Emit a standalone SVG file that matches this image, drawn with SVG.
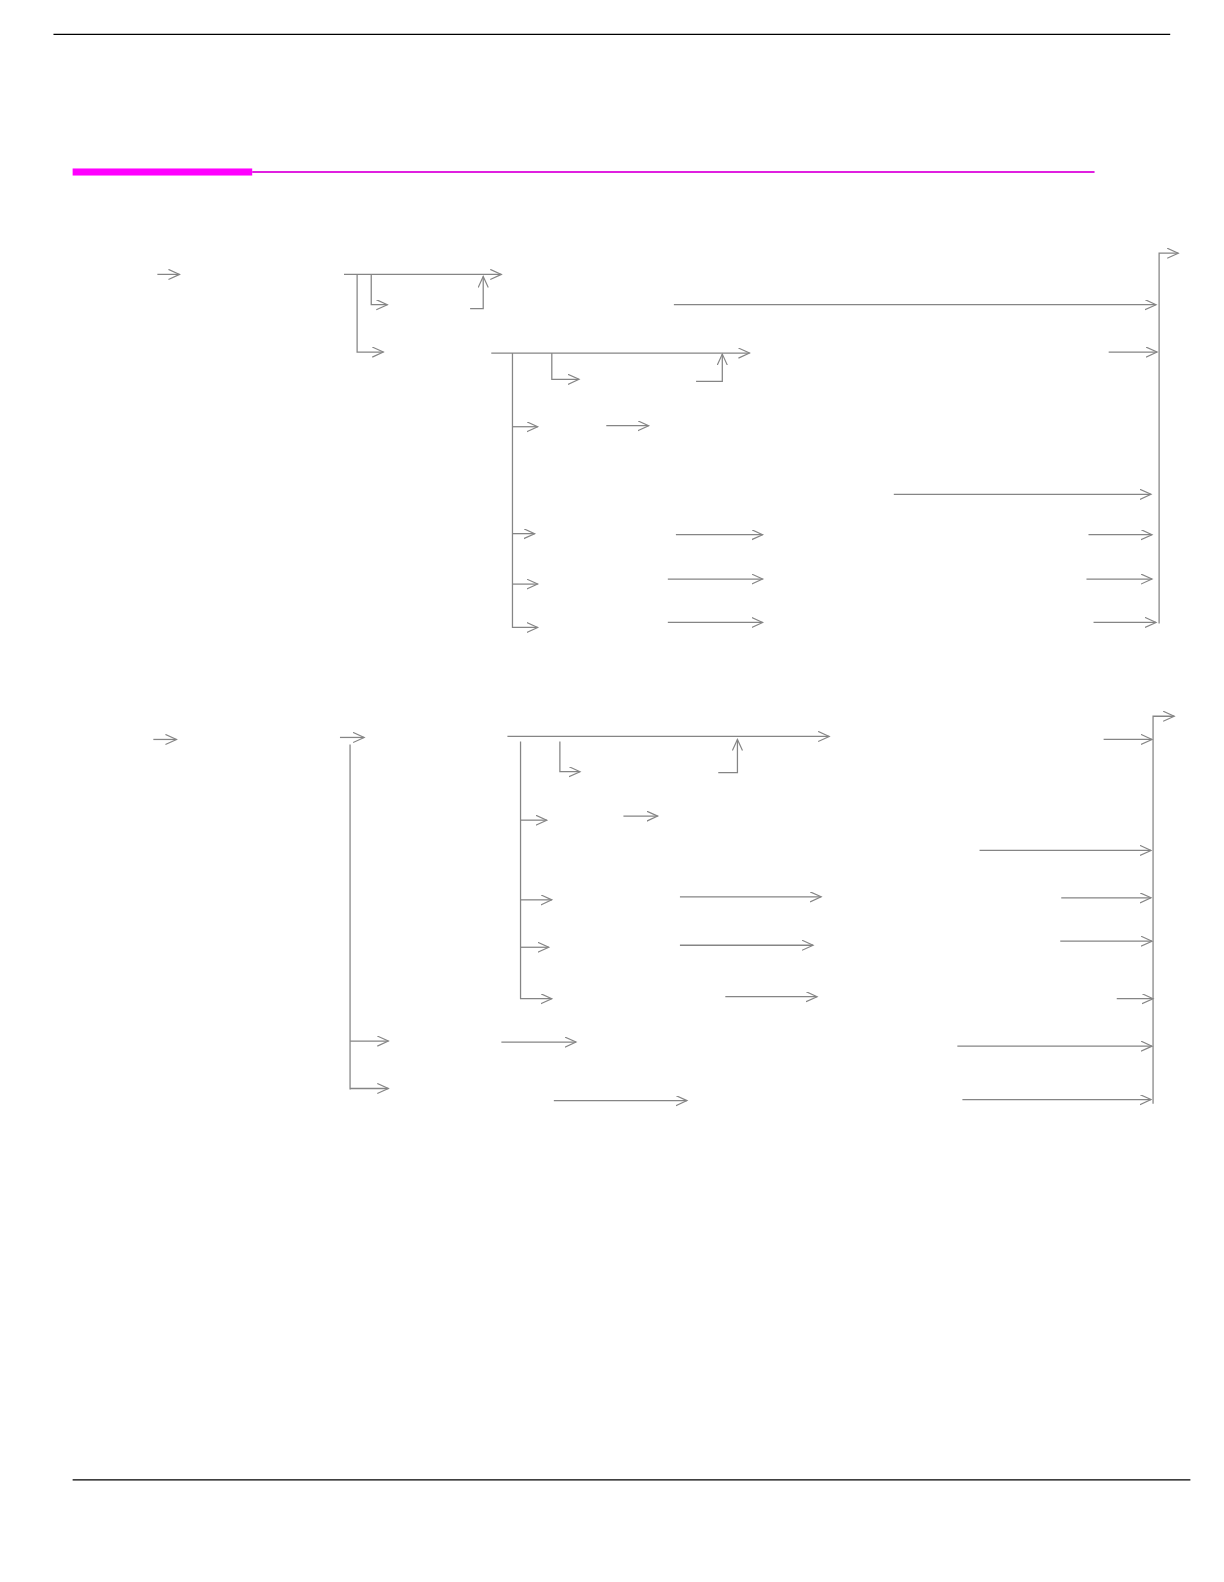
<svg xmlns="http://www.w3.org/2000/svg" width="1224" height="1582" viewBox="0 0 1224 1582">
<style>
.c{fill:none;stroke:#858585;stroke-width:1.25}
.a{marker-end:url(#ah)}
</style>
<defs>
<marker id="ah" markerUnits="userSpaceOnUse" markerWidth="14" markerHeight="12" refX="11" refY="5" orient="auto">
<path d="M0,0 L11,5 L0,10" fill="none" stroke="#858585" stroke-width="1.15"/>
</marker>
</defs>
<rect width="1224" height="1582" fill="#ffffff"/>
<g transform="scale(1.0088)">
<g id="page">
<line x1="53" y1="34" x2="1160" y2="34" stroke="#000" stroke-width="1.3"/>
<rect x="72" y="167" width="178" height="7" fill="#ff00ff"/>
<line x1="250" y1="170.5" x2="1085" y2="170.5" stroke="#e020e0" stroke-width="2"/>
<line x1="72" y1="1467" x2="1180" y2="1467" stroke="#000" stroke-width="1.2"/>
</g>
<g id="connectors">
<g id="section1">
<path class="c a" d="M156,272 H178"/>
<path class="c a" d="M341,272 H497"/>
<path class="c a" d="M354,272 V349 H380"/>
<path class="c a" d="M368,272 V302 H384"/>
<path class="c a" d="M466,306 H479 V274"/>
<path class="c a" d="M668,302 H1146"/>
<path class="c a" d="M487,350 H743"/>
<path class="c a" d="M508,350 V622 H533"/>
<path class="c a" d="M547,350 V376 H574"/>
<path class="c a" d="M690,378 H716 V351"/>
<path class="c a" d="M508,423 H533"/>
<path class="c a" d="M508,529 H530"/>
<path class="c a" d="M508,579 H533"/>
<path class="c a" d="M601,422 H643"/>
<path class="c a" d="M886,490 H1141"/>
<path class="c a" d="M670,530 H756"/>
<path class="c a" d="M1079,530 H1142"/>
<path class="c a" d="M662,574 H756"/>
<path class="c a" d="M1077,574 H1142"/>
<path class="c a" d="M662,617 H756"/>
<path class="c a" d="M1084,617 H1146"/>
<path class="c a" d="M1099,349 H1147"/>
<path class="c a" d="M1149,618 V251 H1168"/>
</g>
<g id="section2">
<path class="c a" d="M152,733 H175"/>
<path class="c a" d="M337,731 H361"/>
<path class="c" d="M347,738 V1080"/>
<path class="c a" d="M503,730 H822"/>
<path class="c a" d="M516,735 V990 H547"/>
<path class="c a" d="M555,735 V765 H575"/>
<path class="c a" d="M712,766 H731 V733"/>
<path class="c a" d="M516,813 H542"/>
<path class="c a" d="M516,892 H547"/>
<path class="c a" d="M516,939 H544"/>
<path class="c a" d="M618,809 H652"/>
<path class="c a" d="M971,843 H1141"/>
<path class="c a" d="M674,889 H814"/>
<path class="c a" d="M1052,890 H1141"/>
<path class="c a" d="M674,937 H806"/>
<path class="c a" d="M1051,933 H1142"/>
<path class="c a" d="M719,988 H810"/>
<path class="c a" d="M1107,990 H1143"/>
<path class="c a" d="M347,1032 H385"/>
<path class="c a" d="M347,1079 H385"/>
<path class="c a" d="M497,1033 H571"/>
<path class="c a" d="M949,1037 H1142"/>
<path class="c a" d="M549,1091 H681"/>
<path class="c a" d="M954,1090 H1141"/>
<path class="c a" d="M1094,733 H1142"/>
<path class="c a" d="M1143,1094 V710 H1164"/>
</g>
</g>
</g>
</svg>
